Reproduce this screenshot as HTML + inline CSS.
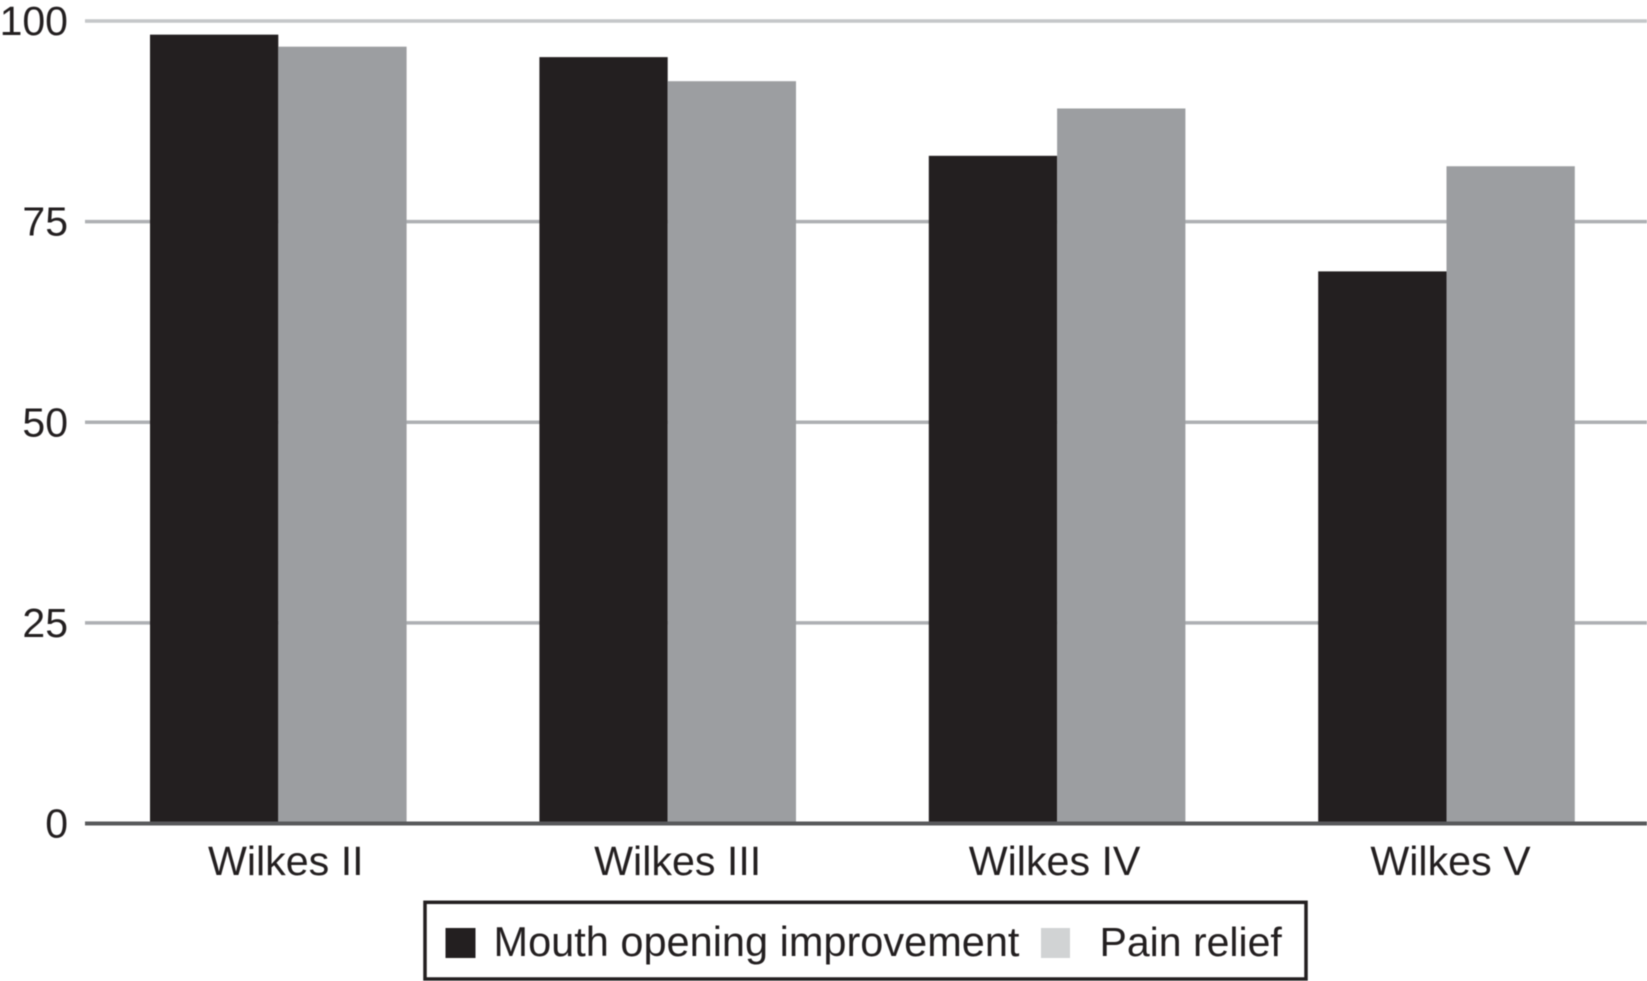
<!DOCTYPE html>
<html lang="en">
<head>
<meta charset="utf-8">
<title>Wilkes stage outcomes</title>
<style>
  html, body { margin: 0; padding: 0; background: #ffffff; width: 1647px; height: 981px; overflow: hidden; }
  svg { display: block; filter: blur(0.45px); }
  text { font-family: "Liberation Sans", Arial, sans-serif; fill: #231f20; }
</style>
</head>
<body>
<svg id="chart" xmlns="http://www.w3.org/2000/svg" width="1647" height="981" viewBox="0 0 1647 981">
  <g id="grid"></g>
  <g id="bars"></g>
  <line x1="85" x2="1647" y1="823.5" y2="823.5" stroke="#58595b" stroke-width="4"></line>
  <g id="yticks"></g>
  <g id="xticks"></g>
  <g>
    <rect x="425" y="902.3" width="881" height="76.7" fill="#ffffff" stroke="#231f20" stroke-width="3.5"></rect>
    <rect x="445.5" y="928" width="30" height="30" fill="#231f20"></rect>
    <text x="493.5" y="956" font-size="41.5">Mouth opening improvement</text>
    <rect x="1041" y="928" width="29" height="30" fill="#d1d3d4"></rect>
    <text x="1099.5" y="956" font-size="41">Pain relief</text>
  </g>
</svg>
<script>
const categories = ["Wilkes II", "Wilkes III", "Wilkes IV", "Wilkes V"];
const mouthOpening = [98.3, 95.5, 83.2, 68.8];
const painRelief = [96.8, 92.5, 89.1, 81.9];
const yTicks = [0, 25, 50, 75, 100];
const seriesNames = ["mouth-opening", "pain-relief"];
const seriesColors = ["#231f20", "#9c9ea1"];
const series = [mouthOpening, painRelief];

const SVG_NS = "http://www.w3.org/2000/svg";
const yZero = 823.5;
const yFull = 21;
const bandStart = 150;
const bandStep = 389.4;
const barWidth = 128.3;
const labelShift = [7.5, 10, -2.5, 4];

function yScale(v) {
  return yZero + (yFull - yZero) * v / 100;
}
function xBand(i) {
  return bandStart + bandStep * i;
}

const grid = document.getElementById("grid");
const yticksGroup = document.getElementById("yticks");
yTicks.forEach(function (t) {
  const y = yScale(t);
  if (t !== 0) {
    const line = document.createElementNS(SVG_NS, "line");
    
    
    line.setAttribute("x1", 85);
    line.setAttribute("x2", 1647);
    line.setAttribute("y1", y);
    line.setAttribute("y2", y);
    line.setAttribute("stroke", t === 100 ? "#c4c6c8" : "#aeb0b3");
    line.setAttribute("stroke-width", 3.5);
    grid.appendChild(line);
  }
  const label = document.createElementNS(SVG_NS, "text");
  
  
  label.setAttribute("x", 68);
  label.setAttribute("y", y + 14);
  label.setAttribute("text-anchor", "end");
  label.setAttribute("font-size", 41);
  label.textContent = String(t);
  yticksGroup.appendChild(label);
});

const barsGroup = document.getElementById("bars");
const xticksGroup = document.getElementById("xticks");
categories.forEach(function (cat, i) {
  series.forEach(function (values, s) {
    const rect = document.createElementNS(SVG_NS, "rect");
    
    
    const top = yScale(values[i]);
    rect.setAttribute("x", xBand(i) + barWidth * s);
    rect.setAttribute("y", top);
    rect.setAttribute("width", barWidth);
    rect.setAttribute("height", yZero - top);
    rect.setAttribute("fill", seriesColors[s]);
    barsGroup.appendChild(rect);
  });
  const label = document.createElementNS(SVG_NS, "text");
  
  
  label.setAttribute("x", xBand(i) + barWidth + labelShift[i]);
  label.setAttribute("y", 875);
  label.setAttribute("text-anchor", "middle");
  label.setAttribute("font-size", 41.2);
  label.textContent = cat;
  xticksGroup.appendChild(label);
});
</script>
</body>
</html>
